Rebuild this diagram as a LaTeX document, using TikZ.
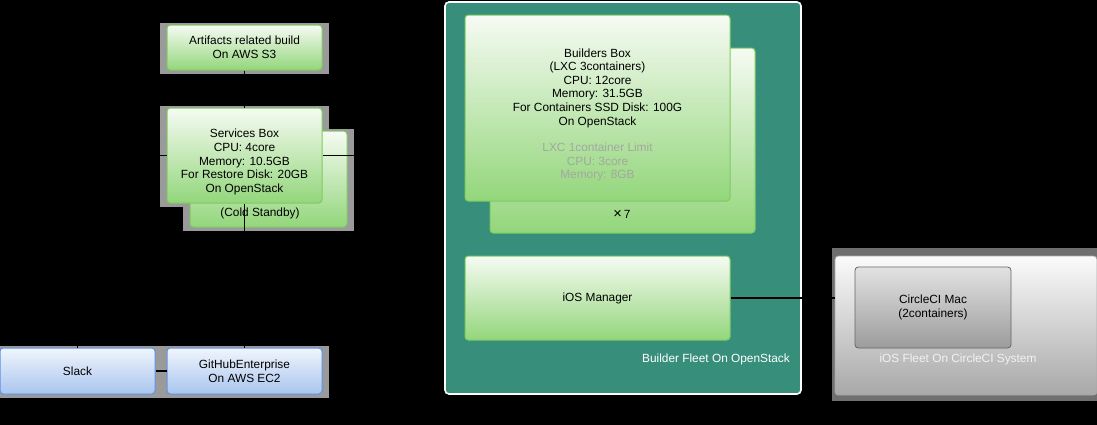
\documentclass[tikz,border=0pt]{standalone}
\usepackage{fontspec}
\setmainfont{Liberation Sans}
\usetikzlibrary{positioning}

\definecolor{greenTop}{HTML}{F6FBF3}
\definecolor{greenBot}{HTML}{93D67B}
\definecolor{greenLine}{HTML}{7FCB61}
\definecolor{blueTop}{HTML}{F0F5FD}
\definecolor{blueBot}{HTML}{A9C5EE}
\definecolor{blueLine}{HTML}{5E93E3}
\definecolor{tealFill}{HTML}{368E7B}
\definecolor{ciTop}{HTML}{FBFBFB}
\definecolor{ciBot}{HTML}{A8A8A8}
\definecolor{macTop}{HTML}{E2E2E2}
\definecolor{macBot}{HTML}{9C9C9C}
\definecolor{macLine}{HTML}{666666}
\definecolor{haloGray}{HTML}{9A9A9A}
\definecolor{ciHalo}{HTML}{6F6F6F}
\definecolor{limitGray}{HTML}{A2A8A0}

\pgfdeclarelayer{back}
\pgfsetlayers{back,main}

\tikzset{
  txt/.style={align=center, font=\fontsize{8.9}{10.2}\selectfont},
  greenbox/.style={txt, draw=greenLine, line width=0.75pt, rounded corners=2.5pt,
    top color=greenTop, bottom color=greenBot, inner sep=0pt},
  bluebox/.style={txt, draw=blueLine, line width=0.75pt, rounded corners=2.5pt,
    top color=blueTop, bottom color=blueBot, inner sep=0pt},
  halo/.style={fill=haloGray},
  wire/.style={draw=black, line width=0.8pt},
  boxw/.style={minimum width=116.25pt},
  buildw/.style={minimum width=198.75pt}
}

\begin{document}
\begin{tikzpicture}[x=0.75pt, y=-0.75pt]
  \useasboundingbox (0,0) rectangle (1097,425);

  % left column
  \node[greenbox, boxw, minimum height=33.75pt] (art) at (244.5,47.5) {Artifacts related build\\On AWS S3};
  \node[greenbox, minimum width=117.75pt, minimum height=72pt] (standby) at (268.5,179) {};
  \node[txt] (standbytxt) at (260,213) {(Cold Standby)};
  \node[greenbox, boxw, minimum height=71.25pt] (svc) at (244.5,155.5) {};
  \node[txt] (svctxt) at (244.5,162) {Services Box\\CPU: 4core\\Memory: 10.5GB\\For Restore Disk: 20GB\\On OpenStack};
  \node[bluebox, boxw, minimum height=34.5pt] (slack) at (77.5,371) {Slack};
  \node[bluebox, boxw, minimum height=34.5pt] (ghe) at (244.5,371) {GitHubEnterprise\\On AWS EC2};

  % builder fleet
  \node[draw=white, line width=1.2pt, fill=tealFill, rounded corners=3pt,
    minimum width=267pt, minimum height=294pt] (fleet) at (623,198) {};
  \node[txt, text=white] (fleetlbl) at (716,359) {Builder Fleet On OpenStack};
  \node[greenbox, buildw, minimum height=138.75pt] (buildback) at (622.5,140.5) {};
  \node[txt] (times) at (622,214) {{\fontsize{11}{12}\selectfont ×}\,7};
  \node[greenbox, buildw, minimum height=139.5pt] (build) at (597.5,108) {};
  \node[txt] (buildtxt) at (597.5,88) {Builders Box\\(LXC 3containers)\\CPU: 12core\\Memory: 31.5GB\\For Containers SSD Disk: 100G\\On OpenStack};
  \node[txt, text=limitGray] (limittxt) at (597.5,162) {LXC 1container Limit\\CPU: 3core\\Memory: 8GB};
  \node[greenbox, buildw, minimum height=63pt] (ios) at (597.5,298) {iOS Manager};

  % circleci fleet
  \node[draw=ciBot, line width=0.6pt, top color=ciTop, bottom color=ciBot, rounded corners=2.5pt,
    minimum width=196.5pt, minimum height=104.25pt] (cifleet) at (966,325.5) {};
  \node[txt, draw=macLine, line width=0.6pt, top color=macTop, bottom color=macBot, rounded corners=2.5pt,
    minimum width=117pt, minimum height=60.75pt] (mac) at (933,307.5) {CircleCI Mac\\(2containers)};
  \node[txt, text=white!95!black] (cilbl) at (958,359) {iOS Fleet On CircleCI System};

  % connectors
  \draw[wire] (art) -- (svc);
  \draw[wire] (svc.south) -- (ghe.north);
  \draw[wire] (slack) -- (ghe);
  \draw[wire] (slack.north) |- (svc.west);
  \draw[wire] (svc.east) -- (svc.east -| fleet.west);
  \draw[wire] (ios.east) -- (ios.east -| cifleet.west);

  % backdrop and halos
  \begin{pgfonlayer}{back}
    \fill[black] (0,0) rectangle (1097,425);
    \foreach \n in {art,svc,standby,slack,ghe}
      \fill[halo] ([shift={(-5pt,1.5pt)}]\n.north west) rectangle ([shift={(4.5pt,-2.5pt)}]\n.south east);
    \fill[ciHalo] ([shift={(-2pt,6pt)}]cifleet.north west) rectangle ([shift={(0pt,-4pt)}]cifleet.south east);
  \end{pgfonlayer}
\end{tikzpicture}
\end{document}
